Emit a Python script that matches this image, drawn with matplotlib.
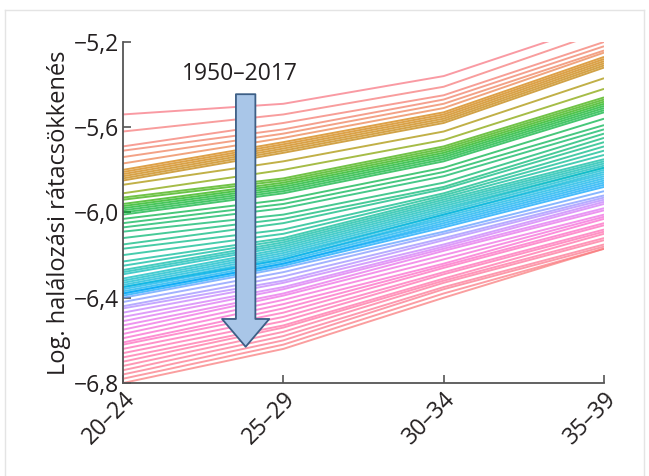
import numpy as np
import matplotlib.pyplot as plt
from matplotlib.patches import FancyArrowPatch

plt.rcParams['font.family'] = ['Open Sans', 'DejaVu Sans']

age_groups = ['20–24', '25–29', '30–34', '35–39']
years = list(range(1950, 2018))

# log mortality, one value per year (1950 .. 2017) for each age group
y_20_24 = [-5.54, -5.62, -5.69, -5.71, -5.74, -5.77, -5.80, -5.81, -5.82, -5.83,
           -5.84, -5.85, -5.87, -5.91, -5.93, -5.94, -5.96, -5.97, -5.98, -5.99,
           -6.00, -6.01, -6.03, -6.05, -6.07, -6.09, -6.12, -6.15, -6.17, -6.20,
           -6.23, -6.25, -6.27, -6.28, -6.29, -6.31, -6.32, -6.33, -6.34, -6.35,
           -6.35, -6.36, -6.37, -6.38, -6.38, -6.39, -6.40, -6.42, -6.44, -6.45,
           -6.47, -6.49, -6.51, -6.53, -6.55, -6.57, -6.59, -6.61, -6.62, -6.64,
           -6.66, -6.68, -6.70, -6.72, -6.74, -6.76, -6.78, -6.80]
y_25_29 = [-5.49, -5.54, -5.58, -5.61, -5.63, -5.65, -5.67, -5.68, -5.69, -5.70,
           -5.71, -5.72, -5.76, -5.80, -5.84, -5.85, -5.86, -5.87, -5.88, -5.89,
           -5.90, -5.91, -5.94, -5.96, -5.98, -6.01, -6.03, -6.05, -6.08, -6.10,
           -6.12, -6.13, -6.14, -6.15, -6.16, -6.17, -6.18, -6.19, -6.20, -6.21,
           -6.22, -6.22, -6.23, -6.24, -6.24, -6.25, -6.26, -6.28, -6.30, -6.32,
           -6.33, -6.35, -6.36, -6.38, -6.39, -6.41, -6.43, -6.45, -6.47, -6.49,
           -6.51, -6.53, -6.54, -6.56, -6.58, -6.60, -6.62, -6.64]
y_30_34 = [-5.36, -5.41, -5.45, -5.47, -5.49, -5.51, -5.53, -5.54, -5.55, -5.56,
           -5.57, -5.58, -5.62, -5.66, -5.69, -5.70, -5.71, -5.72, -5.73, -5.74,
           -5.75, -5.76, -5.79, -5.81, -5.83, -5.86, -5.88, -5.89, -5.91, -5.92,
           -5.93, -5.94, -5.95, -5.96, -5.97, -5.98, -5.99, -6.00, -6.01, -6.01,
           -6.02, -6.03, -6.04, -6.05, -6.06, -6.07, -6.09, -6.10, -6.12, -6.13,
           -6.15, -6.16, -6.17, -6.18, -6.20, -6.22, -6.24, -6.25, -6.26, -6.28,
           -6.29, -6.31, -6.32, -6.33, -6.35, -6.36, -6.38, -6.40]
y_35_39 = [-5.11, -5.15, -5.20, -5.22, -5.24, -5.25, -5.27, -5.28, -5.29, -5.30,
           -5.31, -5.32, -5.37, -5.42, -5.46, -5.47, -5.48, -5.49, -5.50, -5.51,
           -5.52, -5.53, -5.56, -5.59, -5.61, -5.63, -5.65, -5.67, -5.69, -5.71,
           -5.73, -5.75, -5.76, -5.77, -5.78, -5.79, -5.79, -5.80, -5.81, -5.82,
           -5.83, -5.84, -5.85, -5.86, -5.87, -5.88, -5.90, -5.92, -5.93, -5.94,
           -5.95, -5.96, -5.98, -5.99, -6.01, -6.02, -6.03, -6.05, -6.06, -6.08,
           -6.09, -6.10, -6.12, -6.13, -6.15, -6.16, -6.17, -6.17]


def hcl_color(h, c=95, l=65):
    # polar LUV -> sRGB
    xn, yn, zn = 95.047, 100.0, 108.883
    un = 4 * xn / (xn + 15 * yn + 3 * zn)
    vn = 9 * yn / (xn + 15 * yn + 3 * zn)
    u = c * np.cos(np.radians(h))
    v = c * np.sin(np.radians(h))
    Y = yn * ((l + 16) / 116) ** 3
    up = u / (13 * l) + un
    vp = v / (13 * l) + vn
    X = Y * 9 * up / (4 * vp)
    Z = Y * (12 - 3 * up - 20 * vp) / (4 * vp)
    xyz = np.array([X, Y, Z]) / 100
    m = np.array([[3.2406, -1.5372, -0.4986],
                  [-0.9689, 1.8758, 0.0415],
                  [0.0557, -0.2040, 1.0570]])
    rgb = m @ xyz
    rgb = np.where(rgb <= 0.0031308, 12.92 * rgb, 1.055 * np.clip(rgb, 0, None) ** (1 / 2.4) - 0.055)
    return tuple(np.clip(rgb, 0, 1))


# hue per line index: red -> orange -> green -> teal -> blue -> purple -> pink -> red
hue_idx = [0, 5, 6, 11, 12, 14, 21, 27, 35, 45, 50, 57, 67]
hue_val = [8, 28, 40, 52, 75, 122, 135, 160, 195, 245, 285, 335, 372]
lum_idx = [0, 5, 6, 11, 13, 21, 67]
lum_val = [65, 65, 60, 58, 62, 62, 66]

fig = plt.figure(figsize=(6.49, 4.76), dpi=100)
ax = fig.add_axes([0.1895, 0.1954, 0.7412, 0.7164])

# light frame around the figure
fr = dict(color='#e4e4e4', lw=1, transform=fig.transFigure)
fig.add_artist(plt.Line2D([5/649, 644/649], [1-10/476, 1-10/476], **fr))
fig.add_artist(plt.Line2D([5/649, 5/649], [0, 1-10/476], **fr))
fig.add_artist(plt.Line2D([644/649, 644/649], [0, 1-10/476], **fr))

data = np.array([y_20_24, y_25_29, y_30_34, y_35_39]).T
n = len(years)
xs = np.arange(len(age_groups))
for i in range(n):
    col = hcl_color(np.interp(i, hue_idx, hue_val), l=np.interp(i, lum_idx, lum_val))
    ax.plot(xs, data[i], color=col, lw=1.4, alpha=0.72, solid_capstyle='butt')

ax.set_xlim(0, 3)
ax.set_ylim(-6.8, -5.2)
ax.set_yticks([-6.8, -6.4, -6.0, -5.6, -5.2])
ax.set_yticklabels(['−6,8', '−6,4', '−6,0', '−5,6', '−5,2'])
ax.set_xticks(xs)
ax.set_xticklabels(age_groups, rotation=45, ha='right', va='top', rotation_mode='anchor')

for s in ['top', 'right']:
    ax.spines[s].set_visible(False)
for s in ['left', 'bottom']:
    ax.spines[s].set_color('#555555')
    ax.spines[s].set_linewidth(1.3)
ax.tick_params(direction='in', length=6, width=1.2, color='#555555',
               labelsize=16.5, labelcolor='#231f20', pad=3)
ax.set_ylabel('Log. halálozási rátacsökkenés', fontsize=17, color='#231f20', labelpad=2)

arrow = FancyArrowPatch((0.765, -5.445), (0.765, -6.63),
                        arrowstyle='simple,head_width=34,head_length=20,tail_width=14',
                        mutation_scale=1, shrinkA=0, shrinkB=0,
                        fc='#a9c6e8', ec='#3d5f86', lw=1.3, zorder=5)
ax.add_patch(arrow)
ax.text(0.73, -5.35, '1950–2017', ha='center', va='center', fontsize=16.5, color='#231f20', zorder=6)

fig.savefig('out.png', dpi=100)
